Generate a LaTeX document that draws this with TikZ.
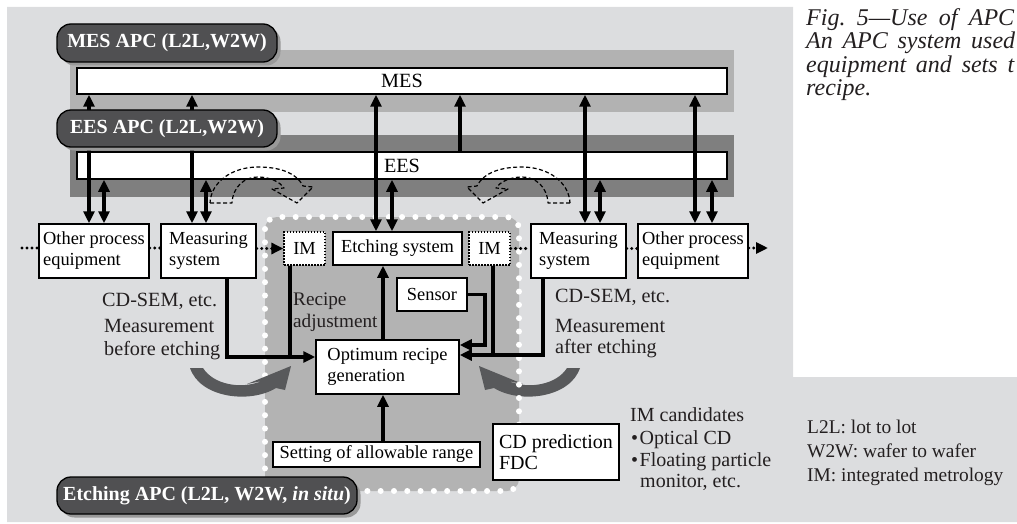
\documentclass[tikz,border=0pt]{standalone}
\usepackage{fontspec}
\setmainfont{Liberation Serif}
\usetikzlibrary{arrows.meta,shadows}
\definecolor{bgc}{HTML}{DCDDDF}
\definecolor{mesband}{HTML}{B2B2B2}
\definecolor{eesband}{HTML}{7F7F7F}
\definecolor{etchreg}{HTML}{B3B3B3}
\definecolor{lblc}{HTML}{505052}
\definecolor{garrow}{HTML}{58595B}
\definecolor{txtc}{HTML}{231F20}
\newcommand\boxf{\fontsize{18.4}{21}\selectfont}
\newcommand\cdpf{\fontsize{20}{21}\selectfont}
\newcommand\labf{\fontsize{20.2}{22}\selectfont}
\newcommand\recf{\fontsize{19.2}{21.5}\selectfont}
\newcommand\legf{\fontsize{19.4}{23}\selectfont}
\newcommand\apcf{\fontsize{20}{22}\selectfont\bfseries}
\newcommand\capf{\fontsize{24}{23.4}\selectfont\itshape}
\begin{document}
\begin{tikzpicture}[x=1pt,y=-1pt,
 box/.style={draw=black, line width=1.5pt, fill=white, inner sep=0pt, font=\boxf, align=left, text=black},
 imbox/.style={box, line width=1.3pt, dash pattern=on 1.5pt off 1.5pt},
 apc/.style={draw=black, line width=1.3pt, fill=lblc, text=white, font=\apcf, rounded corners=14pt, inner sep=0pt, drop shadow={shadow xshift=3.5pt, shadow yshift=-3.5pt, fill=black!40, opacity=1}},
 lab/.style={inner sep=0pt, anchor=base west, text=txtc},
 conn/.style={line width=3.3pt, -{Triangle[length=12pt,width=11pt]}},
 dconn/.style={line width=3.3pt, {Triangle[length=12pt,width=11pt]}-{Triangle[length=12pt,width=11pt]}},
 wire/.style={line width=3.3pt},
 flow/.style={line width=3.4pt, dash pattern=on 0pt off 5pt, line cap=round},
 flowarrow/.style={flow, -{Triangle[length=12pt,width=11pt]}},
 hollow/.style={draw=black, line width=1.2pt, dash pattern=on 4pt off 2.5pt, line join=round}
]
\useasboundingbox (0,0) rectangle (1017,524);
% background
\fill[bgc] (7,7) -- (793,7) -- (793,377) -- (1017,377) -- (1017,522) -- (7,522) -- cycle;
% bands
\fill[mesband] (70,50) rectangle (734,112);
\fill[eesband] (70,135) rectangle (734,197);
% etching region
\fill[etchreg, rounded corners=12pt] (265,217) rectangle (519,491);
% right grey curved arrow (under the dots)
\begin{scope}[xshift=770pt, xscale=-1]
\fill[garrow] (190,368) -- (203,368)
  .. controls (213,384) and (240,390) .. (262,381)
  -- (247,384) -- (291,366) -- (285,390) -- (276,388)
  .. controls (250,404) and (200,398) .. (190,368) -- cycle;
\end{scope}
\draw[white, line width=6pt, dash pattern=on 0pt off 13.3pt, line cap=round, rounded corners=12pt] (265,217) rectangle (519,491);
% left grey curved arrow
\fill[garrow] (190,368) -- (203,368)
  .. controls (213,384) and (240,390) .. (262,381)
  -- (247,384) -- (291,366) -- (285,390) -- (276,388)
  .. controls (250,404) and (200,398) .. (190,368) -- cycle;
% MES / EES
\node[box, font=\labf, minimum width=650pt, minimum height=26pt] (mes) at (402,81) {MES};
\node[box, font=\labf, minimum width=650pt, minimum height=27pt] (ees) at (402,165.5) {EES};
% process boxes
\node[box, minimum width=110pt, minimum height=54pt] (oL) at (94,251) {Other process\\equipment};
\node[box, minimum width=95pt, minimum height=54pt] (mL) at (208.5,251) {Measuring\\system};
\node[imbox, minimum width=41pt, minimum height=33pt] (imL) at (304.5,248.5) {IM};
\node[box, minimum width=129pt, minimum height=33pt] (etch) at (397.5,248.5) {Etching system};
\node[imbox, minimum width=41pt, minimum height=33pt] (imR) at (489.5,248.5) {IM};
\node[box, minimum width=95pt, minimum height=54pt] (mR) at (578.5,251) {Measuring\\system};
\node[box, minimum width=110pt, minimum height=54pt] (oR) at (693,251) {Other process\\equipment};
\node[box, minimum width=70pt, minimum height=33pt] (sensor) at (432,294.5) {Sensor};
\node[box, minimum width=143pt, minimum height=54pt] (opt) at (387.5,367) {Optimum recipe\\generation};
\node[box, minimum width=207pt, minimum height=25pt] (set) at (376.5,454.5) {Setting of allowable range};
\node[box, font=\cdpf, minimum width=126pt, minimum height=56pt] (cdp) at (556,452) {CD prediction\\FDC};
% flow (dotted) lines
\coordinate (dotsL) at (22,248);
\coordinate (dotsR) at (768,248);
\draw[flow] (dotsL) -- (oL.west |- dotsL);
\draw[flow] (oL.east |- dotsL) -- (mL.west |- dotsL);
\draw[flowarrow] (mL.east |- imL.west) -- (imL.west);
\draw[flow] (imR.east) -- (mR.west |- imR.east);
\draw[flow] (mR.east |- imR.east) -- (oR.west |- imR.east);
\draw[flowarrow] (oR.east |- dotsR) -- (dotsR);
% vertical connectors to MES / EES
\coordinate (oLm) at ([xshift=-5pt]oL.north);
\coordinate (oLe) at ([xshift=10pt]oL.north);
\coordinate (mLm) at ([xshift=-16.5pt]mL.north);
\coordinate (mLe) at ([xshift=-2.5pt]mL.north);
\coordinate (etm) at ([xshift=-21.5pt]etch.north);
\coordinate (ete) at ([xshift=-5.5pt]etch.north);
\coordinate (mRm) at ([xshift=6.5pt]mR.north);
\coordinate (mRe) at ([xshift=21.5pt]mR.north);
\coordinate (oRm) at ([xshift=2pt]oR.north);
\coordinate (oRe) at ([xshift=19pt]oR.north);
\coordinate (eup) at ([xshift=58pt]ees.north);
\foreach \p in {oLm,mLm,etm,mRm,oRm} \draw[dconn] (mes.south -| \p) -- (\p);
\foreach \p in {oLe,mLe,ete,mRe,oRe} \draw[dconn] (ees.south -| \p) -- (\p);
\draw[conn] (eup) -- (mes.south -| eup);
% connectors around optimum recipe generation
\coordinate (jL) at ([yshift=10pt]opt.west);
\coordinate (jS) at ([yshift=22pt]opt.east);
\coordinate (jR) at ([yshift=12pt]opt.east);
\coordinate (mLb) at ([xshift=18.5pt]mL.south);
\coordinate (imLb) at ([xshift=-14.5pt]imL.south);
\coordinate (imRb) at ([xshift=3.5pt]imR.south);
\coordinate (mRb) at ([xshift=-35.5pt]mR.south);
\coordinate (optt) at ([xshift=-4.5pt]opt.north);
\coordinate (sett) at ([xshift=6.5pt]set.north);
\coordinate (sturn) at (485,345);
\draw[conn] (mLb) |- (jL);
\draw[wire] (imLb) -- (imLb |- jL);
\draw[conn] (optt) -- (optt |- etch.south);
\draw[conn] (sett) -- (sett |- opt.south);
\draw[conn] (sensor.east) -| (sturn) -- (jS);
\draw[wire] (imRb) -- (imRb |- jR);
\draw[conn] (mRb) |- (jR);
% APC labels
\node[apc, minimum width=220pt, minimum height=38pt] (mesapc) at (167,43) {MES APC (L2L,W2W)};
\node[apc, minimum width=220pt, minimum height=37pt] (eesapc) at (167,128.5) {EES APC (L2L,W2W)};
\node[apc, minimum width=300pt, minimum height=37pt] (etchapc) at (207,495.5) {Etching APC (L2L, W2W, \textit{in situ})};
% dashed hollow curved arrows
\draw[hollow] (210,203) -- (232,203) .. controls (233,186) and (245,177) .. (258,177)
  .. controls (270,177) and (280,182) .. (284,188) -- (272,189) -- (297,203) -- (313,187) -- (303,186)
  .. controls (296,172) and (278,167) .. (258,167) .. controls (232,167) and (211,182) .. (210,203) -- cycle;
\begin{scope}[xshift=780pt, xscale=-1]
\draw[hollow] (210,203) -- (232,203) .. controls (233,186) and (245,177) .. (258,177)
  .. controls (270,177) and (280,182) .. (284,188) -- (272,189) -- (297,203) -- (313,187) -- (303,186)
  .. controls (296,172) and (278,167) .. (258,167) .. controls (232,167) and (211,182) .. (210,203) -- cycle;
\end{scope}
% text labels
\node[lab, font=\labf] (cdsemL) at (102,306) {CD-SEM, etc.};
\node[lab, font=\labf] (measL1) at (104,332) {Measurement};
\node[lab, font=\labf] (measL2) at (104,355) {before etching};
\node[lab, font=\recf] (rec1) at (293,305) {Recipe};
\node[lab, font=\recf] (rec2) at (293,327) {adjustment};
\node[lab, font=\labf] (cdsemR) at (555,302) {CD-SEM, etc.};
\node[lab, font=\labf] (measR1) at (555,332) {Measurement};
\node[lab, font=\labf] (measR2) at (555,353) {after etching};
\node[lab, font=\cdpf] (imc1) at (630,421) {IM candidates};
\node[lab, font=\cdpf] (imc2) at (631,444) {\textbullet\hspace{1.5pt}Optical CD};
\node[lab, font=\cdpf] (imc3) at (631,466) {\textbullet\hspace{1.5pt}Floating particle};
\node[lab, font=\cdpf] (imc4) at (640,487) {monitor, etc.};
\node[lab, font=\legf] (leg1) at (807,433.6) {L2L: lot to lot};
\node[lab, font=\legf] (leg2) at (807,457) {W2W: wafer to wafer};
\node[lab, font=\legf] (leg3) at (807,481) {IM: integrated metrology};
% caption
\node[lab, font=\capf] (cap1) at (806,26) {\hbox to 208pt{Fig.\ 5—Use of APC}};
\node[lab, font=\capf] (cap2) at (806,49) {\hbox to 209pt{An APC system used}};
\node[lab, font=\capf] (cap3) at (806,72.6) {\hbox to 208pt{equipment and sets t}};
\node[lab, font=\capf] (cap4) at (806,96) {recipe.};
\end{tikzpicture}
\end{document}
